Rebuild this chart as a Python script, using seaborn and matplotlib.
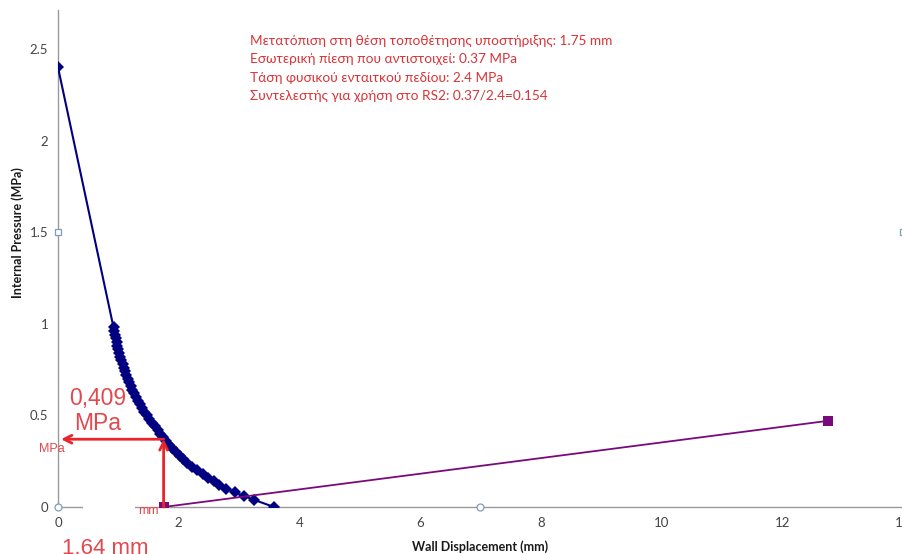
import matplotlib
matplotlib.use("Agg")
import matplotlib.pyplot as plt
from matplotlib.patches import Rectangle
import pandas as pd
import seaborn as sns

# Ground reaction curve: wall displacement (mm) vs internal pressure (MPa)
grc_disp = [0.00, 0.92, 0.93, 0.94, 0.955, 0.97, 0.982, 0.995, 1.01, 1.03, 1.05,
            1.07, 1.09, 1.11, 1.13, 1.155, 1.18, 1.205, 1.23, 1.26, 1.29,
            1.32, 1.355, 1.39, 1.43, 1.47, 1.515, 1.56, 1.605, 1.65, 1.695,
            1.735, 1.785, 1.84, 1.895, 1.955, 2.015, 2.07, 2.14, 2.22, 2.31,
            2.40, 2.49, 2.58, 2.67, 2.79, 2.93, 3.08, 3.24, 3.58]
grc_pres = [2.40, 0.98, 0.96, 0.94, 0.92, 0.90, 0.88, 0.86, 0.84, 0.82, 0.80,
            0.78, 0.76, 0.74, 0.72, 0.70, 0.68, 0.66, 0.64, 0.62, 0.60,
            0.58, 0.56, 0.54, 0.52, 0.50, 0.48, 0.46, 0.44, 0.42, 0.40,
            0.38, 0.36, 0.34, 0.32, 0.30, 0.28, 0.26, 0.24, 0.22, 0.20,
            0.18, 0.16, 0.14, 0.12, 0.10, 0.08, 0.06, 0.04, 0.00]

# Support characteristic line
support_disp = [1.75, 12.75]
support_pres = [0.00, 0.47]

# Installation point and pressure taken up by the support
install_disp = 1.75
install_pres = 0.37

x_ticks = [0, 2, 4, 6, 8, 10, 12, 14]
y_ticks = [0, 0.5, 1, 1.5, 2, 2.5]
y_tick_labels = ["0", "0.5", "1", "1.5", "2", "2.5"]

info_lines = [
    "Μετατόπιση στη θέση τοποθέτησης υποστήριξης: 1.75 mm",
    "Εσωτερική πίεση που αντιστοιχεί: 0.37 MPa",
    "Τάση φυσικού ενταιτκού πεδίου: 2.4 MPa",
    "Συντελεστής για χρήση στο RS2: 0.37/2.4=0.154",
]

sns.set_theme(style="white")
plt.rcParams["font.family"] = ["Lato", "DejaVu Sans"]

W, H = 903, 554
fig = plt.figure(figsize=(W / 100, H / 100), dpi=100)
ax = fig.add_axes([58 / W, 47 / H, (W - 58) / W, (507 - 10) / H])

grc = pd.DataFrame({"disp": grc_disp, "pres": grc_pres})
sup = pd.DataFrame({"disp": support_disp, "pres": support_pres})

navy = "#000080"
purple = "#7a0a7a"
sns.lineplot(data=grc, x="disp", y="pres", sort=False, ax=ax, color=navy,
             lw=1.5, marker="D", markersize=6, markeredgewidth=0,
             markerfacecolor=navy, zorder=4)
sns.lineplot(data=sup, x="disp", y="pres", sort=False, ax=ax, color=purple,
             lw=1.3, marker="s", markersize=7, markeredgewidth=0,
             markerfacecolor=purple, zorder=5)

ax.set_xlim(0, 14)
ax.set_ylim(0, 2.713)
ax.set_xticks(x_ticks)
ax.set_xticklabels([str(t) for t in x_ticks])
ax.set_yticks(y_ticks)
ax.set_yticklabels(y_tick_labels)
ax.tick_params(axis="both", which="both", direction="out", length=4, width=0.8,
               color="#9a9a9a", labelcolor="#444444", labelsize=9.5, pad=3)
ax.tick_params(axis="x", pad=3)

for side in ["left", "bottom"]:
    ax.spines[side].set_color("#9a9a9a")
    ax.spines[side].set_linewidth(1.0)
ax.spines["right"].set_color("#c8c8c8")
ax.spines["right"].set_linewidth(1.0)
ax.spines["top"].set_visible(False)

ax.set_xlabel("Wall Displacement (mm)", fontsize=9, fontweight="bold",
              color="#1a1a1a", labelpad=8)
ax.set_ylabel("")
fig.text(18 / W, 1 - 233 / H, "Internal Pressure (MPa)", rotation=90,
         fontsize=9, fontweight="bold", color="#1a1a1a",
         ha="center", va="center")

# Selection handles of the plot area
handle_col = "#7f9db9"
ax.plot([0, 7], [0, 0], ls="none", marker="o", ms=5, mfc="white",
        mec=handle_col, mew=0.9, clip_on=False, zorder=6)
ax.plot([0, 14], [1.5, 1.5], ls="none", marker="s", ms=5, mfc="white",
        mec=handle_col, mew=0.9, clip_on=False, zorder=6)

# White label box hiding part of the axis line
ax.add_patch(Rectangle((0.41, -0.03), 0.87, 0.06, transform=ax.transData,
                       facecolor="white", edgecolor="none", clip_on=False,
                       zorder=3))

# Arrows reading the installation point
red = "#e8252b"
ax.annotate("", xy=(install_disp, install_pres), xytext=(install_disp, 0),
            arrowprops=dict(arrowstyle="->", color=red, lw=2,
                            mutation_scale=14, shrinkA=0, shrinkB=0),
            zorder=7)
ax.annotate("", xy=(0.05, install_pres), xytext=(install_disp, install_pres),
            arrowprops=dict(arrowstyle="->", color=red, lw=2,
                            mutation_scale=14, shrinkA=0, shrinkB=0),
            zorder=7)

label_red = "#e4474c"
fig.text(98 / W, 1 - 411 / H, "0,409\nMPa", fontsize=16.5, color=label_red,
         ha="center", va="center", linespacing=1.1,
         family=["Liberation Sans", "DejaVu Sans"])
fig.text(105 / W, 1 - 548 / H, "1.64 mm", fontsize=16, color=label_red,
         ha="center", va="center", family=["Liberation Sans", "DejaVu Sans"])
fig.text(52 / W, 1 - 449 / H, "MPa", fontsize=9, color=label_red,
         ha="center", va="center", family=["Liberation Sans", "DejaVu Sans"])
fig.text(148 / W, 1 - 511 / H, "mm", fontsize=9, color=label_red,
         ha="center", va="center", family=["Liberation Sans", "DejaVu Sans"])

text_red = "#db3337"
for i, line in enumerate(info_lines):
    fig.text(250 / W, 1 - (41 + 18.3 * i) / H, line, fontsize=9.8,
             color=text_red, ha="left", va="center")

fig.savefig("out.png", dpi=100, facecolor="white")
